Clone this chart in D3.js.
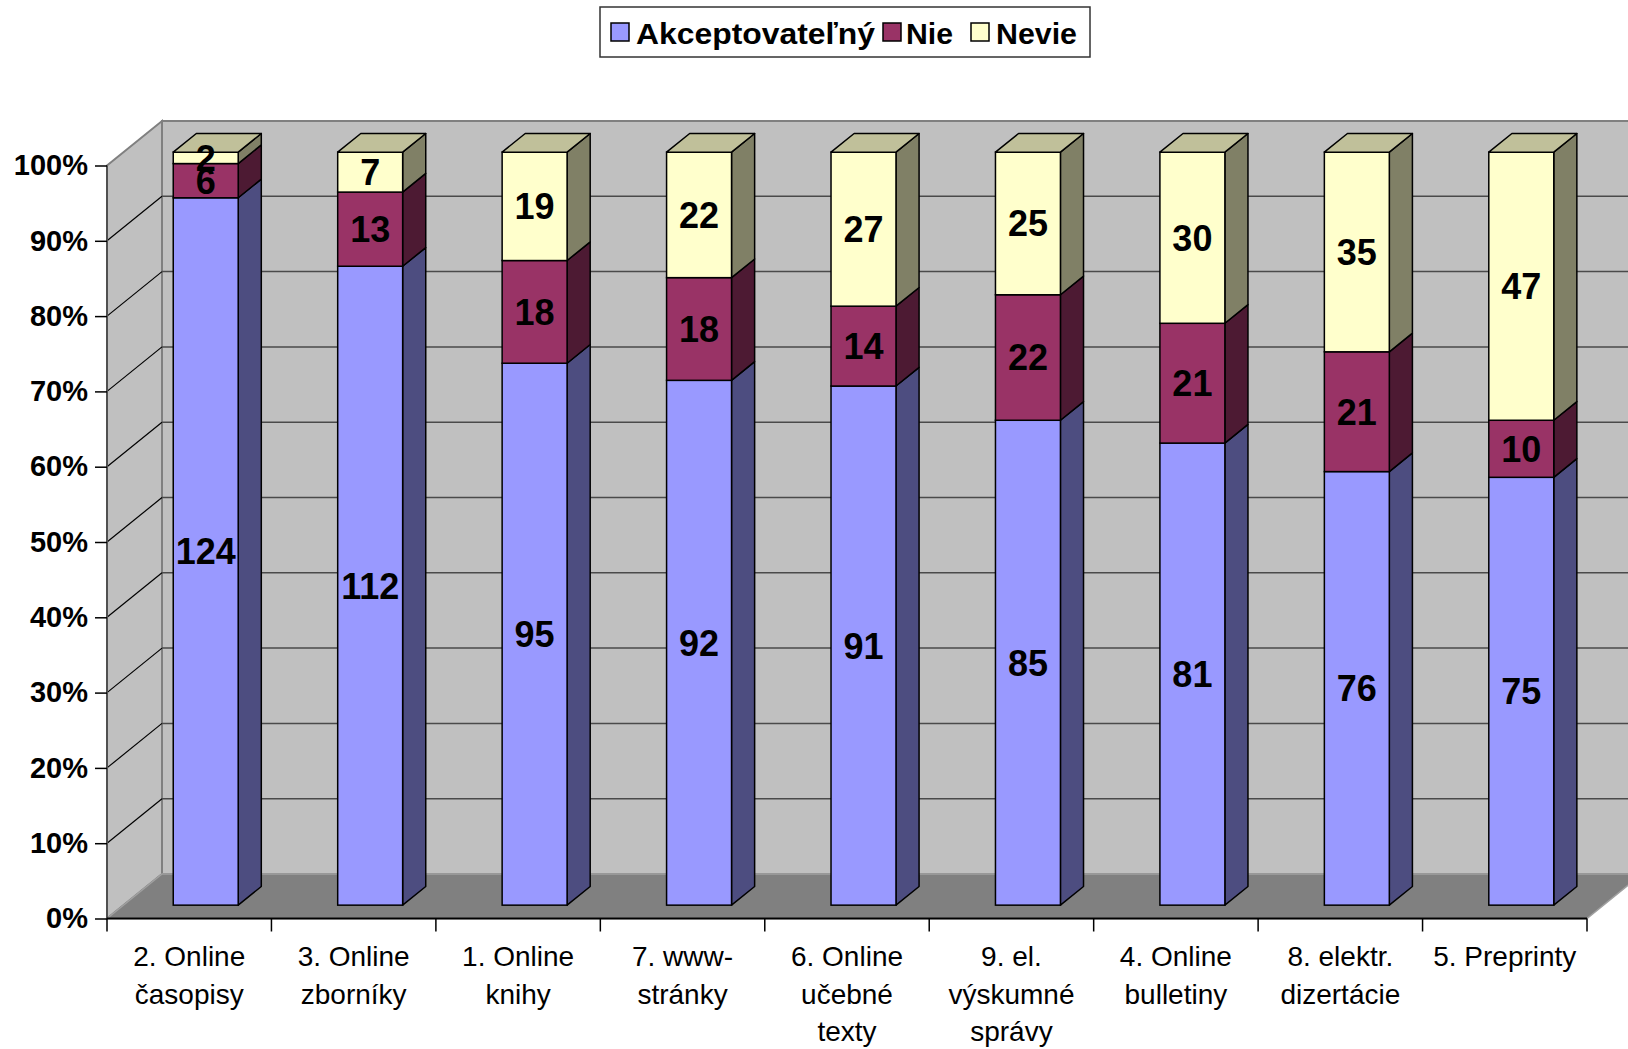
<!DOCTYPE html>
<html><head><meta charset="utf-8">
<script src="https://cdn.jsdelivr.net/npm/d3@7"></script>
<style>
html,body{margin:0;padding:0;background:#fff;}
svg{display:block;font-family:"Liberation Sans",Arial,sans-serif;}
</style></head>
<body>
<svg id="chart" width="1628" height="1049"></svg>
<script>
const categories = [
  ["2. Online","časopisy"],
  ["3. Online","zborníky"],
  ["1. Online","knihy"],
  ["7. www-","stránky"],
  ["6. Online","učebné","texty"],
  ["9. el.","výskumné","správy"],
  ["4. Online","bulletiny"],
  ["8. elektr.","dizertácie"],
  ["5. Preprinty"]
];
const seriesNames = ["Akceptovateľný","Nie","Nevie"];
const akceptovatelny = [124,112,95,92,91,85,81,76,75];
const nie = [6,13,18,18,14,22,21,21,10];
const nevie = [2,7,19,22,27,25,30,35,47];
const yTicks = [0,0.1,0.2,0.3,0.4,0.5,0.6,0.7,0.8,0.9,1.0];
const frontColors = ["#9999FF","#993366","#FFFFCC"];
const sideColors = ["#4D4D80","#4D1A33","#808066"];
const topColors = ["#7373BF","#73264D","#C0C09A"];

const svg = d3.select("#chart");
const W = 1628, H = 1049;
const x0 = 107, x1 = 1587;
const DX = 55, DY = 44.5;
const fFront = 0.3, fDepth = 0.42;

const keys = categories.map((c,i)=>i);
const xBand = d3.scaleBand().domain(keys).range([x0,x1]).padding(0);
const xBar = d3.scaleBand().domain(keys).range([x0,x1]).paddingInner(0.605).paddingOuter(0.3025);
const y = d3.scaleLinear().domain([0,1]).range([918.5,165.5]);

svg.append("defs").append("clipPath").attr("id","clipAll")
  .append("rect").attr("x",0).attr("y",0).attr("width",W).attr("height",H);
const plot = svg.append("g").attr("clip-path","url(#clipAll)");

plot.append("rect").attr("x",x0+DX).attr("y",y(1)-DY).attr("width",x1-x0+2).attr("height",y(0)-y(1))
  .attr("fill","#C0C0C0").attr("stroke","#808080").attr("stroke-width",2);
plot.append("polygon").attr("points",[[x0,y(1)],[x0+DX,y(1)-DY],[x0+DX,y(0)-DY],[x0,y(0)]].map(p=>p.join(",")).join(" "))
  .attr("fill","#C0C0C0").attr("stroke","#808080").attr("stroke-width",2);
plot.append("polygon").attr("points",[[x0,y(0)],[x0+DX,y(0)-DY],[x1+DX,y(0)-DY],[x1,y(0)]].map(p=>p.join(",")).join(" "))
  .attr("fill","#808080").attr("stroke","#A0A0A0").attr("stroke-width",1.5);

const grid = plot.append("g");
yTicks.filter(t=>t>0 && t<1).forEach(t=>{
  grid.append("line").attr("x1",x0).attr("y1",y(t)).attr("x2",x0+DX).attr("y2",y(t)-DY)
    .attr("stroke","#000").attr("stroke-width",1.2);
  grid.append("line").attr("x1",x0+DX).attr("y1",y(t)-DY).attr("x2",W+10).attr("y2",y(t)-DY)
    .attr("stroke","#4a4a4a").attr("stroke-width",1.5);
});

plot.append("line").attr("x1",x0).attr("x2",x0).attr("y1",y(1)).attr("y2",y(0))
  .attr("stroke","#505050").attr("stroke-width",2);

const rows = keys.map(i=>({k:i, a:akceptovatelny[i], n:nie[i], v:nevie[i]}));
const stack = d3.stack().keys(["a","n","v"]).offset(d3.stackOffsetExpand);
const stacked = stack(rows);
const raw = [akceptovatelny, nie, nevie];

const fx = fFront*DX, fy = fFront*DY, dx = fDepth*DX, dy = fDepth*DY;
const bw = xBar.bandwidth();
const bars = plot.append("g");
keys.forEach(i=>{
  const bx = xBar(i) + fx;
  const g = bars.append("g");
  stacked.forEach((s,si)=>{
    const lo = s[i][0], hi = s[i][1];
    const yl = y(lo) - fy, yh = y(hi) - fy;
    g.append("polygon").attr("points",[[bx+bw,yh],[bx+bw+dx,yh-dy],[bx+bw+dx,yl-dy],[bx+bw,yl]].map(p=>p.join(",")).join(" "))
      .attr("fill",sideColors[si]).attr("stroke","#000").attr("stroke-width",1.5).attr("stroke-linejoin","round");
    g.append("rect").attr("x",bx).attr("y",yh).attr("width",bw).attr("height",yl-yh)
      .attr("fill",frontColors[si]).attr("stroke","#000").attr("stroke-width",1.5);
    if (si === stacked.length-1) {
      g.append("polygon").attr("points",[[bx,yh],[bx+bw,yh],[bx+bw+dx,yh-dy],[bx+dx,yh-dy]].map(p=>p.join(",")).join(" "))
        .attr("fill",topColors[si]).attr("stroke","#000").attr("stroke-width",1.5).attr("stroke-linejoin","round");
    }
  });
});
const labels = plot.append("g");
keys.forEach(i=>{
  const bx = xBar(i) + fx;
  stacked.forEach((s,si)=>{
    const lo = s[i][0], hi = s[i][1];
    const yc = (y(lo)+y(hi))/2 - fy;
    labels.append("text").attr("x",bx+bw/2).attr("y",yc).attr("dy","0.36em")
      .attr("text-anchor","middle").attr("font-size",36).attr("font-weight","bold").attr("fill","#000")
      .text(raw[si][i]);
  });
});

const yAxis = d3.axisLeft(y).tickValues(yTicks).tickFormat(d3.format(".0%")).tickSize(12).tickPadding(7);
const ya = svg.append("g").attr("transform",`translate(${x0},0)`).call(yAxis);
ya.select(".domain").remove();
ya.selectAll(".tick line").attr("stroke","#000").attr("stroke-width",1.5);
ya.selectAll(".tick text").attr("font-size",29).attr("font-weight","bold").attr("fill","#000")
  .attr("font-family","'Liberation Sans',Arial,sans-serif");

svg.append("line").attr("x1",x0).attr("x2",x1).attr("y1",y(0)).attr("y2",y(0)).attr("stroke","#000").attr("stroke-width",2);
const bounds = keys.map(i=>xBand(i)).concat([x1]);
svg.append("g").selectAll("line").data(bounds).join("line")
  .attr("x1",d=>d).attr("x2",d=>d).attr("y1",y(0)).attr("y2",y(0)+13)
  .attr("stroke","#000").attr("stroke-width",1.5);
const xl = svg.append("g");
categories.forEach((lines,i)=>{
  const cx = xBand(i)+xBand.bandwidth()/2;
  const t = xl.append("text").attr("x",cx).attr("y",966)
    .attr("text-anchor","middle").attr("font-size",28).attr("fill","#000");
  lines.forEach((ln,li)=>{
    t.append("tspan").attr("x",cx).attr("y",966+li*37.5).text(ln);
  });
});

const lg = svg.append("g");
lg.append("rect").attr("x",600).attr("y",7).attr("width",490).attr("height",50)
  .attr("fill","#fff").attr("stroke","#333").attr("stroke-width",1.5);
const legSwX = [611,883,971];
const legTxX = [636,906,996];
const legTxW = [239,47,81];
seriesNames.forEach((nm,si)=>{
  lg.append("rect").attr("x",legSwX[si]).attr("y",23).attr("width",18).attr("height",18)
    .attr("fill",frontColors[si]).attr("stroke","#000").attr("stroke-width",1.5);
  lg.append("text").attr("x",legTxX[si]).attr("y",44).attr("font-size",29).attr("font-weight","bold")
    .attr("textLength",legTxW[si]).attr("lengthAdjust","spacingAndGlyphs")
    .attr("fill","#000").text(nm);
});
</script>
</body></html>
